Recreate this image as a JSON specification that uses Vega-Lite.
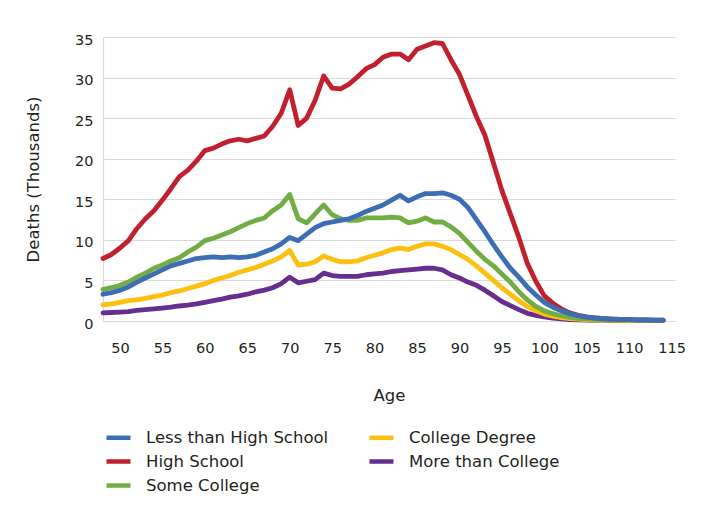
{
"$schema": "https://vega.github.io/schema/vega-lite/v6.json",
"width": 572,
"height": 284,
"autosize": {"type": "none"},
"padding": {"left": 103, "top": 37, "right": 29, "bottom": 185},
"background": "white",
"config": {"view": {"stroke": null}, "font": "DejaVu Sans"},
"data": {"values": [
{"age":48,"education":"More than College","deaths":1.0},{"age":49,"education":"More than College","deaths":1.05},{"age":50,"education":"More than College","deaths":1.1},{"age":51,"education":"More than College","deaths":1.15},{"age":52,"education":"More than College","deaths":1.3},{"age":53,"education":"More than College","deaths":1.4},{"age":54,"education":"More than College","deaths":1.5},{"age":55,"education":"More than College","deaths":1.6},{"age":56,"education":"More than College","deaths":1.7},{"age":57,"education":"More than College","deaths":1.85},{"age":58,"education":"More than College","deaths":1.95},{"age":59,"education":"More than College","deaths":2.1},{"age":60,"education":"More than College","deaths":2.3},{"age":61,"education":"More than College","deaths":2.5},{"age":62,"education":"More than College","deaths":2.7},{"age":63,"education":"More than College","deaths":2.95},{"age":64,"education":"More than College","deaths":3.1},{"age":65,"education":"More than College","deaths":3.3},{"age":66,"education":"More than College","deaths":3.6},{"age":67,"education":"More than College","deaths":3.8},{"age":68,"education":"More than College","deaths":4.1},{"age":69,"education":"More than College","deaths":4.6},{"age":70,"education":"More than College","deaths":5.4},{"age":71,"education":"More than College","deaths":4.7},{"age":72,"education":"More than College","deaths":4.9},{"age":73,"education":"More than College","deaths":5.1},{"age":74,"education":"More than College","deaths":5.9},{"age":75,"education":"More than College","deaths":5.6},{"age":76,"education":"More than College","deaths":5.5},{"age":77,"education":"More than College","deaths":5.5},{"age":78,"education":"More than College","deaths":5.5},{"age":79,"education":"More than College","deaths":5.7},{"age":80,"education":"More than College","deaths":5.8},{"age":81,"education":"More than College","deaths":5.9},{"age":82,"education":"More than College","deaths":6.1},{"age":83,"education":"More than College","deaths":6.2},{"age":84,"education":"More than College","deaths":6.3},{"age":85,"education":"More than College","deaths":6.4},{"age":86,"education":"More than College","deaths":6.5},{"age":87,"education":"More than College","deaths":6.5},{"age":88,"education":"More than College","deaths":6.3},{"age":89,"education":"More than College","deaths":5.7},{"age":90,"education":"More than College","deaths":5.3},{"age":91,"education":"More than College","deaths":4.8},{"age":92,"education":"More than College","deaths":4.4},{"age":93,"education":"More than College","deaths":3.8},{"age":94,"education":"More than College","deaths":3.1},{"age":95,"education":"More than College","deaths":2.4},{"age":96,"education":"More than College","deaths":1.9},{"age":97,"education":"More than College","deaths":1.4},{"age":98,"education":"More than College","deaths":0.95},{"age":99,"education":"More than College","deaths":0.7},{"age":100,"education":"More than College","deaths":0.5},{"age":101,"education":"More than College","deaths":0.35},{"age":102,"education":"More than College","deaths":0.25},{"age":103,"education":"More than College","deaths":0.18},{"age":104,"education":"More than College","deaths":0.13},{"age":105,"education":"More than College","deaths":0.1},{"age":106,"education":"More than College","deaths":0.08},{"age":107,"education":"More than College","deaths":0.07},{"age":108,"education":"More than College","deaths":0.06},{"age":109,"education":"More than College","deaths":0.05},{"age":110,"education":"More than College","deaths":0.05},{"age":111,"education":"More than College","deaths":0.05},{"age":112,"education":"More than College","deaths":0.05},{"age":113,"education":"More than College","deaths":0.05},{"age":114,"education":"More than College","deaths":0.05},
{"age":48,"education":"College Degree","deaths":2.0},{"age":49,"education":"College Degree","deaths":2.1},{"age":50,"education":"College Degree","deaths":2.3},{"age":51,"education":"College Degree","deaths":2.5},{"age":52,"education":"College Degree","deaths":2.6},{"age":53,"education":"College Degree","deaths":2.8},{"age":54,"education":"College Degree","deaths":3.0},{"age":55,"education":"College Degree","deaths":3.2},{"age":56,"education":"College Degree","deaths":3.5},{"age":57,"education":"College Degree","deaths":3.7},{"age":58,"education":"College Degree","deaths":4.0},{"age":59,"education":"College Degree","deaths":4.3},{"age":60,"education":"College Degree","deaths":4.6},{"age":61,"education":"College Degree","deaths":5.0},{"age":62,"education":"College Degree","deaths":5.3},{"age":63,"education":"College Degree","deaths":5.6},{"age":64,"education":"College Degree","deaths":6.0},{"age":65,"education":"College Degree","deaths":6.3},{"age":66,"education":"College Degree","deaths":6.6},{"age":67,"education":"College Degree","deaths":7.0},{"age":68,"education":"College Degree","deaths":7.4},{"age":69,"education":"College Degree","deaths":7.9},{"age":70,"education":"College Degree","deaths":8.7},{"age":71,"education":"College Degree","deaths":6.9},{"age":72,"education":"College Degree","deaths":7.0},{"age":73,"education":"College Degree","deaths":7.3},{"age":74,"education":"College Degree","deaths":8.0},{"age":75,"education":"College Degree","deaths":7.6},{"age":76,"education":"College Degree","deaths":7.3},{"age":77,"education":"College Degree","deaths":7.3},{"age":78,"education":"College Degree","deaths":7.4},{"age":79,"education":"College Degree","deaths":7.8},{"age":80,"education":"College Degree","deaths":8.1},{"age":81,"education":"College Degree","deaths":8.4},{"age":82,"education":"College Degree","deaths":8.8},{"age":83,"education":"College Degree","deaths":9.0},{"age":84,"education":"College Degree","deaths":8.8},{"age":85,"education":"College Degree","deaths":9.2},{"age":86,"education":"College Degree","deaths":9.5},{"age":87,"education":"College Degree","deaths":9.5},{"age":88,"education":"College Degree","deaths":9.2},{"age":89,"education":"College Degree","deaths":8.8},{"age":90,"education":"College Degree","deaths":8.2},{"age":91,"education":"College Degree","deaths":7.6},{"age":92,"education":"College Degree","deaths":6.8},{"age":93,"education":"College Degree","deaths":5.9},{"age":94,"education":"College Degree","deaths":5.0},{"age":95,"education":"College Degree","deaths":4.1},{"age":96,"education":"College Degree","deaths":3.3},{"age":97,"education":"College Degree","deaths":2.5},{"age":98,"education":"College Degree","deaths":1.8},{"age":99,"education":"College Degree","deaths":1.25},{"age":100,"education":"College Degree","deaths":0.85},{"age":101,"education":"College Degree","deaths":0.6},{"age":102,"education":"College Degree","deaths":0.42},{"age":103,"education":"College Degree","deaths":0.3},{"age":104,"education":"College Degree","deaths":0.22},{"age":105,"education":"College Degree","deaths":0.16},{"age":106,"education":"College Degree","deaths":0.12},{"age":107,"education":"College Degree","deaths":0.1},{"age":108,"education":"College Degree","deaths":0.08},{"age":109,"education":"College Degree","deaths":0.07},{"age":110,"education":"College Degree","deaths":0.06},{"age":111,"education":"College Degree","deaths":0.06},{"age":112,"education":"College Degree","deaths":0.05},{"age":113,"education":"College Degree","deaths":0.05},{"age":114,"education":"College Degree","deaths":0.05},
{"age":48,"education":"Some College","deaths":3.9},{"age":49,"education":"Some College","deaths":4.1},{"age":50,"education":"Some College","deaths":4.4},{"age":51,"education":"Some College","deaths":4.8},{"age":52,"education":"Some College","deaths":5.4},{"age":53,"education":"Some College","deaths":5.9},{"age":54,"education":"Some College","deaths":6.5},{"age":55,"education":"Some College","deaths":6.9},{"age":56,"education":"Some College","deaths":7.4},{"age":57,"education":"Some College","deaths":7.8},{"age":58,"education":"Some College","deaths":8.5},{"age":59,"education":"Some College","deaths":9.1},{"age":60,"education":"Some College","deaths":9.9},{"age":61,"education":"Some College","deaths":10.2},{"age":62,"education":"Some College","deaths":10.6},{"age":63,"education":"Some College","deaths":11.0},{"age":64,"education":"Some College","deaths":11.5},{"age":65,"education":"Some College","deaths":12.0},{"age":66,"education":"Some College","deaths":12.4},{"age":67,"education":"Some College","deaths":12.7},{"age":68,"education":"Some College","deaths":13.6},{"age":69,"education":"Some College","deaths":14.3},{"age":70,"education":"Some College","deaths":15.6},{"age":71,"education":"Some College","deaths":12.6},{"age":72,"education":"Some College","deaths":12.1},{"age":73,"education":"Some College","deaths":13.2},{"age":74,"education":"Some College","deaths":14.3},{"age":75,"education":"Some College","deaths":13.1},{"age":76,"education":"Some College","deaths":12.6},{"age":77,"education":"Some College","deaths":12.4},{"age":78,"education":"Some College","deaths":12.4},{"age":79,"education":"Some College","deaths":12.7},{"age":80,"education":"Some College","deaths":12.7},{"age":81,"education":"Some College","deaths":12.7},{"age":82,"education":"Some College","deaths":12.8},{"age":83,"education":"Some College","deaths":12.7},{"age":84,"education":"Some College","deaths":12.1},{"age":85,"education":"Some College","deaths":12.3},{"age":86,"education":"Some College","deaths":12.7},{"age":87,"education":"Some College","deaths":12.2},{"age":88,"education":"Some College","deaths":12.2},{"age":89,"education":"Some College","deaths":11.6},{"age":90,"education":"Some College","deaths":10.8},{"age":91,"education":"Some College","deaths":9.7},{"age":92,"education":"Some College","deaths":8.6},{"age":93,"education":"Some College","deaths":7.6},{"age":94,"education":"Some College","deaths":6.8},{"age":95,"education":"Some College","deaths":5.8},{"age":96,"education":"Some College","deaths":4.8},{"age":97,"education":"Some College","deaths":3.6},{"age":98,"education":"Some College","deaths":2.6},{"age":99,"education":"Some College","deaths":1.8},{"age":100,"education":"Some College","deaths":1.25},{"age":101,"education":"Some College","deaths":0.9},{"age":102,"education":"Some College","deaths":0.65},{"age":103,"education":"Some College","deaths":0.45},{"age":104,"education":"Some College","deaths":0.33},{"age":105,"education":"Some College","deaths":0.25},{"age":106,"education":"Some College","deaths":0.2},{"age":107,"education":"Some College","deaths":0.16},{"age":108,"education":"Some College","deaths":0.13},{"age":109,"education":"Some College","deaths":0.11},{"age":110,"education":"Some College","deaths":0.1},{"age":111,"education":"Some College","deaths":0.09},{"age":112,"education":"Some College","deaths":0.08},{"age":113,"education":"Some College","deaths":0.08},{"age":114,"education":"Some College","deaths":0.08},
{"age":48,"education":"High School","deaths":7.7},{"age":49,"education":"High School","deaths":8.2},{"age":50,"education":"High School","deaths":9.0},{"age":51,"education":"High School","deaths":9.9},{"age":52,"education":"High School","deaths":11.4},{"age":53,"education":"High School","deaths":12.6},{"age":54,"education":"High School","deaths":13.6},{"age":55,"education":"High School","deaths":14.9},{"age":56,"education":"High School","deaths":16.3},{"age":57,"education":"High School","deaths":17.8},{"age":58,"education":"High School","deaths":18.6},{"age":59,"education":"High School","deaths":19.7},{"age":60,"education":"High School","deaths":21.0},{"age":61,"education":"High School","deaths":21.3},{"age":62,"education":"High School","deaths":21.8},{"age":63,"education":"High School","deaths":22.2},{"age":64,"education":"High School","deaths":22.4},{"age":65,"education":"High School","deaths":22.2},{"age":66,"education":"High School","deaths":22.5},{"age":67,"education":"High School","deaths":22.8},{"age":68,"education":"High School","deaths":24.0},{"age":69,"education":"High School","deaths":25.6},{"age":70,"education":"High School","deaths":28.5},{"age":71,"education":"High School","deaths":24.1},{"age":72,"education":"High School","deaths":25.0},{"age":73,"education":"High School","deaths":27.2},{"age":74,"education":"High School","deaths":30.2},{"age":75,"education":"High School","deaths":28.7},{"age":76,"education":"High School","deaths":28.6},{"age":77,"education":"High School","deaths":29.2},{"age":78,"education":"High School","deaths":30.1},{"age":79,"education":"High School","deaths":31.1},{"age":80,"education":"High School","deaths":31.6},{"age":81,"education":"High School","deaths":32.5},{"age":82,"education":"High School","deaths":32.9},{"age":83,"education":"High School","deaths":32.9},{"age":84,"education":"High School","deaths":32.2},{"age":85,"education":"High School","deaths":33.5},{"age":86,"education":"High School","deaths":33.9},{"age":87,"education":"High School","deaths":34.3},{"age":88,"education":"High School","deaths":34.2},{"age":89,"education":"High School","deaths":32.2},{"age":90,"education":"High School","deaths":30.4},{"age":91,"education":"High School","deaths":27.8},{"age":92,"education":"High School","deaths":25.2},{"age":93,"education":"High School","deaths":22.9},{"age":94,"education":"High School","deaths":19.5},{"age":95,"education":"High School","deaths":16.1},{"age":96,"education":"High School","deaths":13.2},{"age":97,"education":"High School","deaths":10.3},{"age":98,"education":"High School","deaths":7.1},{"age":99,"education":"High School","deaths":4.9},{"age":100,"education":"High School","deaths":3.1},{"age":101,"education":"High School","deaths":2.2},{"age":102,"education":"High School","deaths":1.5},{"age":103,"education":"High School","deaths":1.0},{"age":104,"education":"High School","deaths":0.7},{"age":105,"education":"High School","deaths":0.5},{"age":106,"education":"High School","deaths":0.38},{"age":107,"education":"High School","deaths":0.3},{"age":108,"education":"High School","deaths":0.24},{"age":109,"education":"High School","deaths":0.2},{"age":110,"education":"High School","deaths":0.17},{"age":111,"education":"High School","deaths":0.15},{"age":112,"education":"High School","deaths":0.13},{"age":113,"education":"High School","deaths":0.12},{"age":114,"education":"High School","deaths":0.11},
{"age":48,"education":"Less than High School","deaths":3.3},{"age":49,"education":"Less than High School","deaths":3.5},{"age":50,"education":"Less than High School","deaths":3.8},{"age":51,"education":"Less than High School","deaths":4.2},{"age":52,"education":"Less than High School","deaths":4.8},{"age":53,"education":"Less than High School","deaths":5.3},{"age":54,"education":"Less than High School","deaths":5.8},{"age":55,"education":"Less than High School","deaths":6.3},{"age":56,"education":"Less than High School","deaths":6.8},{"age":57,"education":"Less than High School","deaths":7.1},{"age":58,"education":"Less than High School","deaths":7.4},{"age":59,"education":"Less than High School","deaths":7.7},{"age":60,"education":"Less than High School","deaths":7.8},{"age":61,"education":"Less than High School","deaths":7.9},{"age":62,"education":"Less than High School","deaths":7.8},{"age":63,"education":"Less than High School","deaths":7.9},{"age":64,"education":"Less than High School","deaths":7.8},{"age":65,"education":"Less than High School","deaths":7.9},{"age":66,"education":"Less than High School","deaths":8.1},{"age":67,"education":"Less than High School","deaths":8.5},{"age":68,"education":"Less than High School","deaths":8.9},{"age":69,"education":"Less than High School","deaths":9.5},{"age":70,"education":"Less than High School","deaths":10.3},{"age":71,"education":"Less than High School","deaths":9.9},{"age":72,"education":"Less than High School","deaths":10.7},{"age":73,"education":"Less than High School","deaths":11.5},{"age":74,"education":"Less than High School","deaths":12.0},{"age":75,"education":"Less than High School","deaths":12.2},{"age":76,"education":"Less than High School","deaths":12.4},{"age":77,"education":"Less than High School","deaths":12.6},{"age":78,"education":"Less than High School","deaths":13.0},{"age":79,"education":"Less than High School","deaths":13.5},{"age":80,"education":"Less than High School","deaths":13.9},{"age":81,"education":"Less than High School","deaths":14.3},{"age":82,"education":"Less than High School","deaths":14.9},{"age":83,"education":"Less than High School","deaths":15.5},{"age":84,"education":"Less than High School","deaths":14.8},{"age":85,"education":"Less than High School","deaths":15.3},{"age":86,"education":"Less than High School","deaths":15.7},{"age":87,"education":"Less than High School","deaths":15.7},{"age":88,"education":"Less than High School","deaths":15.8},{"age":89,"education":"Less than High School","deaths":15.5},{"age":90,"education":"Less than High School","deaths":15.0},{"age":91,"education":"Less than High School","deaths":14.0},{"age":92,"education":"Less than High School","deaths":12.5},{"age":93,"education":"Less than High School","deaths":11.0},{"age":94,"education":"Less than High School","deaths":9.4},{"age":95,"education":"Less than High School","deaths":7.9},{"age":96,"education":"Less than High School","deaths":6.5},{"age":97,"education":"Less than High School","deaths":5.4},{"age":98,"education":"Less than High School","deaths":4.2},{"age":99,"education":"Less than High School","deaths":3.2},{"age":100,"education":"Less than High School","deaths":2.3},{"age":101,"education":"Less than High School","deaths":1.7},{"age":102,"education":"Less than High School","deaths":1.25},{"age":103,"education":"Less than High School","deaths":0.9},{"age":104,"education":"Less than High School","deaths":0.65},{"age":105,"education":"Less than High School","deaths":0.48},{"age":106,"education":"Less than High School","deaths":0.37},{"age":107,"education":"Less than High School","deaths":0.3},{"age":108,"education":"Less than High School","deaths":0.24},{"age":109,"education":"Less than High School","deaths":0.2},{"age":110,"education":"Less than High School","deaths":0.17},{"age":111,"education":"Less than High School","deaths":0.15},{"age":112,"education":"Less than High School","deaths":0.13},{"age":113,"education":"Less than High School","deaths":0.12},{"age":114,"education":"Less than High School","deaths":0.11}
]},
"mark": {"type": "line", "strokeWidth": 4.8, "strokeCap": "round", "strokeJoin": "round"},
"encoding": {
  "x": {"field": "age", "type": "quantitative",
    "scale": {"domain": [48, 115.4], "nice": false, "zero": false},
    "axis": {"values": [50,55,60,65,70,75,80,85,90,95,100,105,110,115], "title": "Age", "grid": false, "ticks": false,
      "domainColor": "#d9d9d9", "domainWidth": 1.2, "labelFontSize": 14.5, "labelColor": "#231f20", "labelPadding": 20,
      "labelFlush": false, "labelOverlap": false, "titleFontSize": 16.5, "titleFontWeight": "normal", "titleColor": "#231f20", "titlePadding": 33}},
  "y": {"field": "deaths", "type": "quantitative",
    "scale": {"domain": [0, 35], "nice": false},
    "axis": {"values": [0,5,10,15,20,25,30,35], "title": "Deaths (Thousands)", "grid": true, "gridColor": "#d9d9d9", "gridWidth": 1.2,
      "ticks": false, "domainColor": "#d9d9d9", "domainWidth": 1.2, "labelFontSize": 14.5, "labelColor": "#231f20", "labelPadding": 10,
      "labelOffset": 3, "titleFontSize": 16.5, "titleFontWeight": "normal", "titleColor": "#231f20", "titlePadding": 33}},
  "color": {"field": "education", "type": "nominal",
    "scale": {"domain": ["Less than High School", "High School", "Some College", "College Degree", "More than College"],
      "range": ["#3c6eb4", "#c1212f", "#72ad44", "#fdc010", "#662e8f"]},
    "legend": {"orient": "none", "legendX": 1, "legendY": 386, "columns": 2, "title": null, "symbolType": "stroke",
      "symbolSize": 576, "symbolStrokeWidth": 4.5, "labelFontSize": 16.5, "labelColor": "#231f20", "labelOffset": 13,
      "rowPadding": 0, "columnPadding": 31, "padding": 0, "labelLimit": 400}}
}
}
